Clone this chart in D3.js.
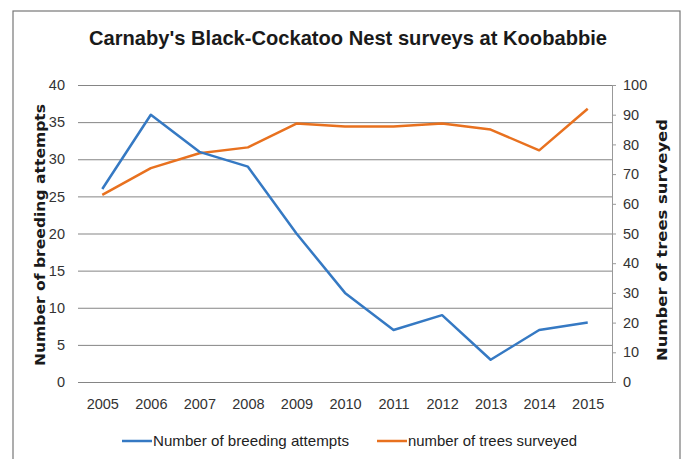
<!DOCTYPE html>
<html>
<head>
<meta charset="utf-8">
<script src="https://cdn.jsdelivr.net/npm/d3@7"></script>
<style>
  body { margin: 0; background: #fff; }
  svg { display: block; }
</style>
</head>
<body>
<script>
// chart data
const years = ['2005', '2006', '2007', '2008', '2009', '2010', '2011', '2012', '2013', '2014', '2015']
const breedingAttempts = [26, 36, 31, 29, 20, 12, 7, 9, 3, 7, 8]
const treesSurveyed = [63, 72, 77, 79, 87, 86, 86, 87, 85, 78, 92]
const leftTicks = [0, 5, 10, 15, 20, 25, 30, 35, 40]
const rightTicks = [0, 10, 20, 30, 40, 50, 60, 70, 80, 90, 100]

const W = 687, H = 459
const plot = {left: 78, right: 612, top: 85, bottom: 382}
const sans = "'Liberation Sans', Arial, sans-serif"
const blue = '#3579c3', orange = '#e8711f'

const svg = d3.select('body').append('svg')
    .attr('width', W)
    .attr('height', H)

svg.append('rect')
    .attr('width', W).attr('height', H)
    .attr('fill', '#fff')

// outer frame of the chart
svg.append('rect')
    .attr('x', 13).attr('y', 11)
    .attr('width', 667).attr('height', 470)
    .attr('fill', 'none')
    .attr('stroke', '#777')
    .attr('stroke-width', 1.2)

// scales
const x = d3.scalePoint()
    .domain(years)
    .range([plot.left, plot.right])
    .padding(0.5)

const yLeft = d3.scaleLinear()
    .domain([0, 40])
    .range([plot.bottom, plot.top])

const yRight = d3.scaleLinear()
    .domain([0, 100])
    .range([plot.bottom, plot.top])

// left axis + horizontal gridlines
const gLeft = svg.append('g')
    .attr('transform', 'translate(' + plot.left + ',0)')
    .call(d3.axisLeft(yLeft).tickValues(leftTicks)
        .tickSize(-(plot.right - plot.left)).tickPadding(13))
gLeft.select('.domain').remove()
gLeft.selectAll('line').attr('stroke', '#858585')
gLeft.selectAll('text')
    .style('font-family', sans)
    .style('font-size', '14.5px')
    .attr('fill', '#333')

// right axis
const gRight = svg.append('g')
    .attr('transform', 'translate(' + plot.right + ',0)')
    .call(d3.axisRight(yRight).tickValues(rightTicks).tickSize(4).tickPadding(7))
gRight.select('.domain').attr('stroke', '#999')
gRight.selectAll('line').attr('stroke', '#999')
gRight.selectAll('text')
    .style('font-family', sans)
    .style('font-size', '14.5px')
    .attr('fill', '#333')

// bottom axis
const gBottom = svg.append('g')
    .attr('transform', 'translate(0,' + plot.bottom + ')')
    .call(d3.axisBottom(x).tickSize(0).tickPadding(17))
gBottom.select('.domain')
    .attr('stroke', '#858585')
    .attr('d', 'M' + plot.left + ',0.5H' + plot.right)
gBottom.selectAll('text')
    .style('font-family', sans)
    .style('font-size', '14.5px')
    .attr('fill', '#333')

// lines
const lineLeft = d3.line()
    .x((d, i) => x(years[i]))
    .y(d => yLeft(d))
const lineRight = d3.line()
    .x((d, i) => x(years[i]))
    .y(d => yRight(d))

svg.append('path')
    .datum(treesSurveyed)
    .attr('fill', 'none')
    .attr('stroke', orange)
    .attr('stroke-width', 2.5)
    .attr('stroke-linejoin', 'round')
    .attr('d', lineRight)

svg.append('path')
    .datum(breedingAttempts)
    .attr('fill', 'none')
    .attr('stroke', blue)
    .attr('stroke-width', 2.5)
    .attr('stroke-linejoin', 'round')
    .attr('d', lineLeft)

// title and axis titles (squeezed a bit, the original font is a narrow one)
svg.append('text')
    .attr('x', 348)
    .attr('y', 45)
    .attr('text-anchor', 'middle')
    .attr('textLength', 518)
    .attr('lengthAdjust', 'spacingAndGlyphs')
    .style('font-family', sans)
    .style('font-weight', 'bold')
    .style('font-size', '21px')
    .attr('fill', '#1a1a1a')
    .text("Carnaby's Black-Cockatoo Nest surveys at Koobabbie")

svg.append('text')
    .attr('transform', 'translate(45,235)rotate(-90)')
    .attr('text-anchor', 'middle')
    .attr('textLength', 262)
    .attr('lengthAdjust', 'spacingAndGlyphs')
    .style('font-family', 'DejaVu Sans, sans-serif')
    .style('font-weight', 'bold')
    .style('font-size', '14.5px')
    .attr('fill', '#1a1a1a')
    .text('Number of breeding attempts')

svg.append('text')
    .attr('transform', 'translate(667,240)rotate(-90)')
    .attr('text-anchor', 'middle')
    .attr('textLength', 242)
    .attr('lengthAdjust', 'spacingAndGlyphs')
    .style('font-family', 'DejaVu Sans, sans-serif')
    .style('font-weight', 'bold')
    .style('font-size', '14.5px')
    .attr('fill', '#1a1a1a')
    .text('Number of trees surveyed')

// legend
const legendItems = [
    {label: 'Number of breeding attempts', color: blue, x: 122, len: 196},
    {label: 'number of trees surveyed', color: orange, x: 377, len: 169}
]
const legend = svg.selectAll('.legend').data(legendItems)
    .enter().append('g')
    .attr('class', 'legend')
    .attr('transform', d => 'translate(' + d.x + ',441)')
legend.append('line')
    .attr('x1', 0).attr('x2', 30)
    .attr('stroke', d => d.color)
    .attr('stroke-width', 2.5)
legend.append('text')
    .attr('x', 31)
    .attr('dy', '0.35em')
    .attr('textLength', d => d.len)
    .attr('lengthAdjust', 'spacingAndGlyphs')
    .style('font-family', sans)
    .style('font-size', '15px')
    .attr('fill', '#222')
    .text(d => d.label)
</script>
</body>
</html>
